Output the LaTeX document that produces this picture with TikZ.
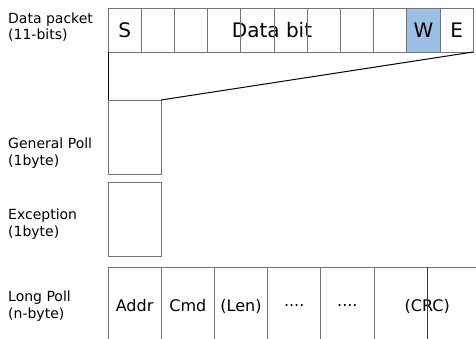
\documentclass[tikz,border=0pt]{standalone}
\usepackage{fontspec}
\setmainfont{DejaVu Sans}
\definecolor{ourblue}{RGB}{155,192,228}
\begin{document}
\begin{tikzpicture}[x=1pt,y=-1pt,
  cell/.style={draw=black!55,line width=0.7pt,minimum width=33.2pt,minimum height=44pt,inner sep=0pt,outer sep=0pt,anchor=north west},
  bcell/.style={draw=black!55,line width=0.7pt,minimum width=53.2pt,minimum height=80pt,inner sep=0pt,outer sep=0pt,anchor=north west},
  box/.style={draw=black!55,line width=0.7pt,minimum width=53pt,minimum height=74pt,inner sep=0pt,outer sep=0pt,anchor=north west},
  lbl/.style={anchor=west,align=left,font=\fontsize{14}{16.5}\selectfont,inner sep=0pt},
  big/.style={font=\fontsize{20}{22}\selectfont,inner sep=0pt},
  mid/.style={font=\fontsize{16}{18}\selectfont,inner sep=0pt},
  conn/.style={draw=black,line width=1pt}]
\useasboundingbox (0,0) rectangle (476,339);
\clip (0,0) rectangle (476,339);
% left labels
\node[lbl] (l1) at (8,27) {Data packet\\(11-bits)};
\node[lbl] (l2) at (8,153) {General Poll\\(1byte)};
\node[lbl] (l3) at (8,224) {Exception\\(1byte)};
\node[lbl] (l4) at (8,306) {Long Poll\\(n-byte)};
% data bit text (behind lines)
\node[big] (dbt) at (272,30) {Data bit};
% top cells
\foreach \i in {1,...,11} {
  \pgfmathsetmacro{\xx}{108+33.2*(\i-1)}
  \ifnum\i=10
    \node[cell,fill=ourblue] (c\i) at (\xx,8) {};
  \else
    \node[cell] (c\i) at (\xx,8) {};
  \fi
}
\node[big] at (c1) {S};
\node[big] at (c10) {W};
\node[big] at (c11) {E};
% general poll and exception
\node[box] (gp) at (108,100) {};
\node[box] (ex) at (108,182) {};
% trapezoid
\draw[conn] (c1.south west) -- (gp.north west);
\draw[conn] (gp.north east) -- (c11.south east);
% long poll
\foreach \i in {1,...,7} {
  \pgfmathsetmacro{\xx}{108+53.2*(\i-1)}
  \node[bcell] (p\i) at (\xx,267) {};
}
\node[mid] at ([yshift=1pt]p1.center) {Addr};
\node[mid] at ([yshift=1pt]p2.center) {Cmd};
\node[mid] at ([yshift=1pt]p3.center) {(Len)};
\node[mid] at ([yshift=1pt]p4.center) {....};
\node[mid] at ([yshift=1pt]p5.center) {....};
\node[mid] (crc) at ([yshift=1pt]p6.east) {(CRC)};
\draw[draw=black!80,line width=0.7pt] (p6.north east) -- (p6.south east);
\end{tikzpicture}
\end{document}
